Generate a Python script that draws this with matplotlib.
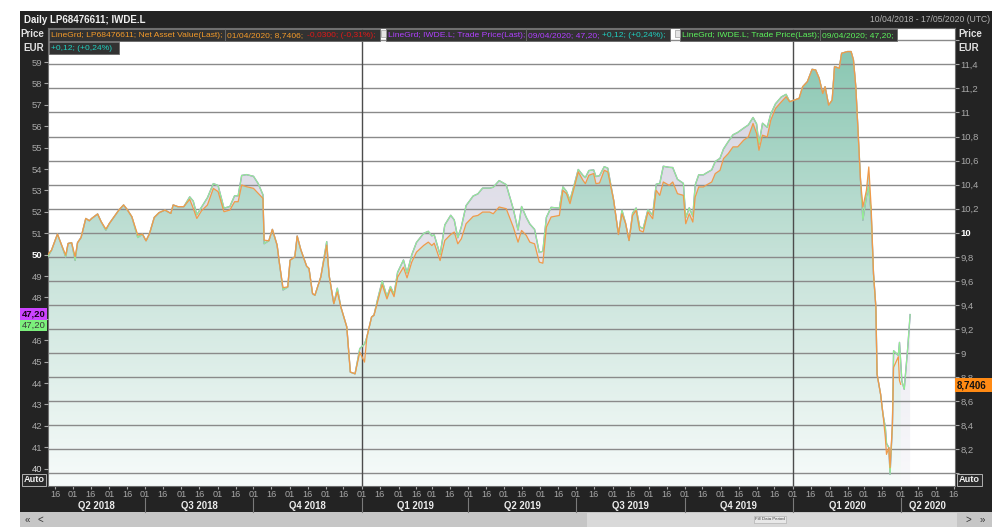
import matplotlib
matplotlib.use("Agg")
import matplotlib.pyplot as plt
import matplotlib.dates as mdates
import matplotlib.colors as mcolors
from matplotlib.patches import Rectangle
from matplotlib.path import Path
import numpy as np
import pandas as pd

plt.rcParams['font.family'] = ['Liberation Sans', 'DejaVu Sans']

# common sampling dates for both series
dates = [
    '2018-04-10', '2018-04-13', '2018-04-18', '2018-04-21', '2018-04-25', '2018-04-27', '2018-04-30',
    '2018-05-03', '2018-05-05', '2018-05-08', '2018-05-12', '2018-05-15', '2018-05-17', '2018-05-22',
    '2018-05-25', '2018-05-29', '2018-06-01', '2018-06-06', '2018-06-09', '2018-06-13', '2018-06-16',
    '2018-06-20', '2018-06-25', '2018-06-29', '2018-07-02', '2018-07-05', '2018-07-09', '2018-07-13',
    '2018-07-18', '2018-07-23', '2018-07-25', '2018-07-29', '2018-08-03', '2018-08-08', '2018-08-11',
    '2018-08-14', '2018-08-18', '2018-08-23', '2018-08-28', '2018-09-01', '2018-09-06', '2018-09-11',
    '2018-09-15', '2018-09-18', '2018-09-21', '2018-09-25', '2018-10-01', '2018-10-05', '2018-10-09',
    '2018-10-10', '2018-10-14', '2018-10-17', '2018-10-21', '2018-10-23', '2018-10-26', '2018-10-30',
    '2018-11-01', '2018-11-05', '2018-11-07', '2018-11-10', '2018-11-15', '2018-11-17', '2018-11-20',
    '2018-11-22', '2018-11-27', '2018-12-02', '2018-12-04', '2018-12-08', '2018-12-11', '2018-12-14',
    '2018-12-19', '2018-12-22', '2018-12-26', '2018-12-30', '2019-01-03', '2019-01-05', '2019-01-09',
    '2019-01-11', '2019-01-14', '2019-01-18', '2019-01-22', '2019-01-25', '2019-01-28', '2019-01-31',
    '2019-02-05', '2019-02-08', '2019-02-12', '2019-02-16', '2019-02-22', '2019-02-26', '2019-03-01',
    '2019-03-03', '2019-03-08', '2019-03-12', '2019-03-17', '2019-03-20', '2019-03-23', '2019-03-26',
    '2019-03-30', '2019-04-05', '2019-04-09', '2019-04-13', '2019-04-19', '2019-04-22', '2019-04-27',
    '2019-05-03', '2019-05-09', '2019-05-13', '2019-05-16', '2019-05-20', '2019-05-23', '2019-05-27',
    '2019-05-31', '2019-06-03', '2019-06-06', '2019-06-10', '2019-06-17', '2019-06-20', '2019-06-23',
    '2019-06-26', '2019-06-30', '2019-07-03', '2019-07-07', '2019-07-09', '2019-07-12', '2019-07-16',
    '2019-07-18', '2019-07-21', '2019-07-25', '2019-07-28', '2019-08-02', '2019-08-06', '2019-08-09',
    '2019-08-12', '2019-08-15', '2019-08-18', '2019-08-21', '2019-08-24', '2019-08-27', '2019-08-31',
    '2019-09-04', '2019-09-07', '2019-09-10', '2019-09-13', '2019-09-18', '2019-09-21', '2019-09-25',
    '2019-09-30', '2019-10-02', '2019-10-05', '2019-10-08', '2019-10-10', '2019-10-13', '2019-10-17',
    '2019-10-19', '2019-10-24', '2019-10-27', '2019-10-31', '2019-11-03', '2019-11-07', '2019-11-11',
    '2019-11-15', '2019-11-20', '2019-11-24', '2019-11-28', '2019-12-01', '2019-12-03', '2019-12-06',
    '2019-12-10', '2019-12-13', '2019-12-17', '2019-12-22', '2019-12-26', '2019-12-29', '2020-01-02',
    '2020-01-06', '2020-01-09', '2020-01-13', '2020-01-17', '2020-01-20', '2020-01-23', '2020-01-26',
    '2020-01-28', '2020-01-31', '2020-02-03', '2020-02-05', '2020-02-09', '2020-02-11', '2020-02-16',
    '2020-02-19', '2020-02-21', '2020-02-23', '2020-02-25', '2020-02-27', '2020-02-29', '2020-03-03',
    '2020-03-05', '2020-03-07', '2020-03-09', '2020-03-11', '2020-03-12', '2020-03-15', '2020-03-17',
    '2020-03-19', '2020-03-20', '2020-03-22', '2020-03-23', '2020-03-25', '2020-03-26', '2020-03-30',
    '2020-03-31',
]

# LP68476611 Net Asset Value (right axis, EUR)
nav_extra_dates = ['2020-04-01']
nav_vals = [
    9.822, 9.856, 9.989, 9.911, 9.814, 9.911, 9.917,
    9.800, 9.917, 9.961, 10.119, 10.100, 10.119, 10.156,
    10.092, 10.031, 10.078, 10.147, 10.189, 10.231, 10.194,
    10.133, 9.981, 9.989, 9.933, 9.994, 10.128, 10.167,
    10.189, 10.161, 10.231, 10.217, 10.217, 10.278, 10.203,
    10.119, 10.183, 10.231, 10.369, 10.342, 10.175, 10.189,
    10.258, 10.258, 10.397, 10.383, 10.369, 10.328, 10.286,
    9.939, 9.933, 10.028, 9.897, 9.744, 9.544, 9.550,
    9.772, 9.800, 9.972, 9.861, 9.722, 9.703, 9.494,
    9.481, 9.633, 9.897, 9.647, 9.411, 9.508, 9.383,
    9.217, 8.842, 8.828, 9.008, 8.925, 9.133, 9.300,
    9.314, 9.422, 9.569, 9.450, 9.533, 9.469, 9.631,
    9.714, 9.625, 9.756, 9.839, 9.894, 9.922, 9.894,
    9.914, 9.769, 9.936, 9.986, 10.006, 9.908, 9.950,
    10.075, 10.136, 10.144, 10.172, 10.172, 10.158, 10.214,
    10.200, 10.047, 9.922, 10.019, 9.978, 9.922, 9.908,
    9.756, 9.747, 10.047, 10.131, 10.144, 10.353, 10.325,
    10.242, 10.394, 10.506, 10.436, 10.408, 10.478, 10.492,
    10.408, 10.414, 10.519, 10.506, 10.269, 9.986, 10.158,
    10.081, 9.936, 10.144, 10.186, 10.019, 10.006, 10.172,
    10.117, 10.353, 10.311, 10.422, 10.394, 10.422, 10.325,
    10.311, 10.075, 10.158, 10.089, 10.297, 10.381, 10.381,
    10.394, 10.422, 10.492, 10.519, 10.617, 10.658, 10.714,
    10.714, 10.769, 10.797, 10.908, 10.825, 10.686, 10.811,
    10.797, 10.936, 11.033, 11.089, 11.131, 11.089, 11.103,
    11.117, 11.214, 11.256, 11.358, 11.353, 11.283, 11.158,
    11.214, 11.061, 11.103, 11.381, 11.367, 11.492, 11.506,
    11.506, 11.436, 11.214, 10.825, 10.436, 10.214, 10.353,
    10.547, 10.214, 9.658, 9.381, 8.825, 8.658, 8.492,
    8.300, 8.158, 8.214, 8.047, 8.408, 8.881, 8.970,
    8.771,
    8.7406,
]

# IWDE.L Trade Price (left axis, EUR)
etf_extra_dates = ['2020-04-02', '2020-04-04', '2020-04-07', '2020-04-09']
etf_vals = [
    49.91, 50.21, 50.96, 50.52, 49.89, 50.52, 50.56,
    49.73, 50.56, 50.80, 51.69, 51.58, 51.69, 51.90,
    51.54, 51.14, 51.46, 51.85, 52.08, 52.32, 52.11,
    51.77, 50.80, 50.96, 50.65, 50.99, 51.74, 51.96,
    52.08, 51.93, 52.32, 52.24, 52.24, 52.70, 52.50,
    51.86, 52.22, 52.66, 53.32, 53.23, 52.17, 52.25,
    52.75, 52.75, 53.70, 53.74, 53.66, 53.32, 52.80,
    50.51, 50.65, 51.18, 50.44, 49.58, 48.35, 48.49,
    49.74, 49.90, 50.87, 50.24, 49.46, 49.35, 48.18,
    48.10, 48.96, 50.61, 49.04, 47.71, 48.43, 47.55,
    46.62, 44.51, 44.43, 45.61, 45.82, 46.15, 47.09,
    47.17, 47.89, 48.77, 48.04, 48.51, 48.15, 49.17,
    49.75, 49.14, 49.99, 50.57, 50.99, 51.09, 50.88,
    50.93, 50.00, 51.39, 51.84, 51.62, 50.79, 51.30,
    52.29, 52.74, 52.84, 53.11, 53.11, 53.15, 53.46,
    53.27, 52.13, 51.15, 52.25, 51.74, 51.43, 51.18,
    50.10, 50.16, 51.74, 52.21, 52.17, 53.17, 52.96,
    52.55, 53.35, 53.98, 53.70, 53.60, 53.93, 53.96,
    53.65, 53.69, 54.11, 54.04, 52.53, 50.94, 52.08,
    51.48, 50.66, 51.94, 52.18, 51.30, 51.22, 52.10,
    51.85, 53.29, 53.33, 54.13, 54.08, 54.07, 53.52,
    53.33, 51.73, 52.19, 51.80, 53.25, 53.73, 53.73,
    53.80, 53.96, 54.35, 54.50, 54.94, 55.28, 55.60,
    55.71, 55.91, 56.06, 56.41, 56.11, 55.16, 56.14,
    55.95, 56.57, 57.05, 57.37, 57.49, 57.15, 57.22,
    57.30, 57.84, 58.08, 58.66, 58.63, 58.24, 57.53,
    57.84, 56.99, 57.22, 58.79, 58.71, 59.41, 59.49,
    59.49, 59.10, 57.84, 55.66, 53.47, 51.61, 52.73,
    53.16, 51.94, 49.10, 47.54, 44.42, 43.48, 42.55,
    41.93, 41.18, 40.98, 39.73, 42.03, 45.51, 45.29,
    45.90,
    44.10, 43.71, 45.66, 47.20,
]

left_ticks = list(range(40, 60))
right_ticks = [round(8.0 + 0.2 * i, 1) for i in range(19)]
year_lines = ['2019-01-01', '2020-01-01']
quarters = [
    ('Q2 2018', '2018-04-10', '2018-07-01'), ('Q3 2018', '2018-07-01', '2018-10-01'),
    ('Q4 2018', '2018-10-01', '2019-01-01'), ('Q1 2019', '2019-01-01', '2019-04-01'),
    ('Q2 2019', '2019-04-01', '2019-07-01'), ('Q3 2019', '2019-07-01', '2019-10-01'),
    ('Q4 2019', '2019-10-01', '2020-01-01'), ('Q1 2020', '2020-01-01', '2020-04-01'),
    ('Q2 2020', '2020-04-01', '2020-05-17'),
]
x_start, x_end = '2018-04-10', '2020-05-17'

assert len(nav_vals) == len(dates) + len(nav_extra_dates)
assert len(etf_vals) == len(dates) + len(etf_extra_dates)


def to_num(ds):
    return mdates.date2num(pd.to_datetime(ds).to_pydatetime())


t_nav = to_num(dates + nav_extra_dates)
t_etf = to_num(dates + etf_extra_dates)
xlo, xhi = to_num([x_start, x_end])

W, H = 997, 527
fig = plt.figure(figsize=(W / 100, H / 100), dpi=100, facecolor='white')


def fx(p):
    return p / W


def fy(p):
    return 1 - p / H


def frect(x0, y0, x1, y1, z=5, **kw):
    r = Rectangle((fx(x0), fy(y1)), fx(x1) - fx(x0), fy(y0) - fy(y1),
                  transform=fig.transFigure, zorder=z, **kw)
    fig.add_artist(r)
    return r


def ftext(x, y, s, **kw):
    kw.setdefault('zorder', 6)
    kw.setdefault('va', 'center')
    return fig.text(fx(x), fy(y), s, **kw)


# dark terminal frame and scroll bar
frect(20, 11, 992, 512, z=-2, fc='#232323', ec='none')
frect(20, 512, 992, 527, z=-2, fc='#c6c6c6', ec='none')
frect(587, 513, 957, 527, z=-1, fc='#d9d9d9', ec='none')

rect = [fx(48), fy(486), (955 - 48) / W, (486 - 28) / H]
axr = fig.add_axes(rect)
ax = fig.add_axes(rect, sharex=axr)
ax.patch.set_visible(False)
axr.set_facecolor('white')


def gradient(stops, cols):
    pos = np.linspace(0, 1, 256)
    c = np.array([mcolors.to_rgb(k) for k in cols])
    img = np.stack([np.interp(pos, stops, c[:, k]) for k in range(3)], axis=-1)
    return img[:, None, :]


r_lo, r_hi = 7.895, 11.702
l_lo, l_hi = 39.19, 60.59

# lavender fill under IWDE.L (clipped by its own polygon, left scale)
etf_poly = Path([(t_etf[0], 0)] + list(zip(t_etf, etf_vals)) + [(t_etf[-1], 0), (t_etf[0], 0)])
im1 = axr.imshow(gradient([0, 1], ['#d3d1df', '#f9f9fb']), extent=[xlo, xhi, r_lo, r_hi],
                 aspect='auto', origin='upper', zorder=0.3, interpolation='bilinear')
im1.set_clip_path(etf_poly, ax.transData)

# teal fill under NAV (right scale)
nav_poly = Path([(t_nav[0], 0)] + list(zip(t_nav, nav_vals)) + [(t_nav[-1], 0), (t_nav[0], 0)])
im2 = axr.imshow(gradient([0, 0.48, 1], ['#83c4ae', '#c4e1d7', '#f7fbfa']),
                 extent=[xlo, xhi, r_lo, r_hi], aspect='auto', origin='upper',
                 zorder=0.5, interpolation='bilinear')
im2.set_clip_path(nav_poly, axr.transData)

for d in year_lines:
    axr.axvline(to_num([d])[0], color='#4c4c4c', lw=1.0, zorder=1.8)

ax.plot(t_etf, etf_vals, color='#b040ff', lw=0.9, zorder=2)
ax.plot(t_etf, etf_vals, color='#94ec94', lw=1.0, zorder=3)
ax.plot(t_nav, nav_vals, color='#f09a4a', lw=0.9, zorder=4, transform=axr.transData)

axr.set_xlim(xlo, xhi)
axr.set_ylim(r_lo, r_hi)
ax.set_ylim(l_lo, l_hi)


# right axis (NAV) with the horizontal grid
def rlabel(v):
    if v in (8.0, 11.6):
        return ''
    return ('%g' % v).replace('.', ',')


axr.set_yticks(right_ticks, labels=[rlabel(v) for v in right_ticks])
axr.yaxis.tick_right()
axr.grid(axis='y', color='#8a8a8a', lw=1.0)
axr.tick_params(axis='y', colors='#a8a8a8', labelsize=6.8, length=3, pad=1)
for lbl in axr.get_yticklabels():
    if lbl.get_text() == '10':
        lbl.set_color('white')
        lbl.set_fontweight('bold')

# left axis (IWDE.L); 47 sits behind the last-price badges
ax.set_yticks(left_ticks, labels=['' if v == 47 else str(v) for v in left_ticks])
ax.tick_params(axis='y', left=True, labelleft=True, right=False, labelright=False,
               colors='#a8a8a8', labelsize=6.8, length=3, pad=1)
for lbl in ax.get_yticklabels():
    if lbl.get_text() == '50':
        lbl.set_color('white')
        lbl.set_fontweight('bold')
    if lbl.get_text() == '40':
        lbl.set_color('#d8d8d8')

# time axis
axr.xaxis.set_major_locator(mdates.DayLocator(bymonthday=[1, 16]))
axr.xaxis.set_major_formatter(mdates.DateFormatter('%d'))
axr.tick_params(axis='x', colors='#a8a8a8', labelsize=6.6, length=2, pad=1.2)
ax.tick_params(axis='x', bottom=False, labelbottom=False)

xt = axr.get_xaxis_transform()
for name, a, b in quarters:
    ta, tb = to_num([a, b])
    axr.text((ta + tb) / 2, -0.044, name, transform=xt, ha='center', va='center',
             color='#ececec', fontsize=6.9, fontweight='bold', clip_on=False)
    if a != x_start:
        axr.plot([ta, ta], [-0.026, -0.056], transform=xt, color='#7a7a7a', lw=0.8, clip_on=False)

for s in axr.spines.values():
    s.set_color('#6e6e6e')
    s.set_linewidth(0.8)
for s in ax.spines.values():
    s.set_visible(False)

# header
ftext(24, 20, 'Daily LP68476611; IWDE.L', color='#f0f0f0', fontsize=7, fontweight='bold')
ftext(990, 20, '10/04/2018 - 17/05/2020 (UTC)', color='#b4b4b4', fontsize=6.2, ha='right')
ftext(44, 34, 'Price', color='#e0e0e0', fontsize=7, fontweight='bold', ha='right')
ftext(44, 48, 'EUR', color='#e0e0e0', fontsize=7, fontweight='bold', ha='right')
ftext(958, 34, 'Price', color='#e0e0e0', fontsize=7, fontweight='bold')
ftext(958, 48, 'EUR', color='#e0e0e0', fontsize=7, fontweight='bold')

# legend strip
LEG = dict(fontsize=6.1)
for x0, y0, x1, y1 in [(49, 29, 225, 41), (225, 29, 380, 41), (386, 29, 526, 41),
                       (526, 29, 670, 41), (680, 29, 820, 41), (820, 29, 897, 41),
                       (49, 42, 119, 54)]:
    frect(x0, y0, x1, y1, fc='#323232', ec='#6a6a6a', lw=0.6)
frect(381, 30, 386, 37, fc='#e4e4e4', ec='#888888', lw=0.4)
frect(675, 30, 680, 37, fc='#e4e4e4', ec='#888888', lw=0.4)
ftext(51, 35.5, 'LineGrd; LP68476611; Net Asset Value(Last);', color='#f39a2a', **LEG)
ftext(227, 35.5, '01/04/2020; 8,7406;', color='#f39a2a', **LEG)
ftext(307, 35.5, '-0,0300; (-0,31%);', color='#e01818', **LEG)
ftext(388, 35.5, 'LineGrd; IWDE.L; Trade Price(Last);', color='#b040ff', **LEG)
ftext(528, 35.5, '09/04/2020; 47,20;', color='#b040ff', **LEG)
ftext(602, 35.5, '+0,12; (+0,24%);', color='#20d0c0', **LEG)
ftext(682, 35.5, 'LineGrd; IWDE.L; Trade Price(Last);', color='#5cf25c', **LEG)
ftext(822, 35.5, '09/04/2020; 47,20;', color='#5cf25c', **LEG)
ftext(51, 48.5, '+0,12; (+0,24%)', color='#20d0c0', **LEG)

# last value badges
frect(20, 308, 47, 320, fc='#cc44ff', ec='none')
ftext(46, 314, '47,20', color='#1a001a', fontsize=6.8, fontweight='bold', ha='right')
frect(20, 320, 47, 331, fc='#7cf07c', ec='none')
ftext(46, 325.5, '47,20', color='#3a3a3a', fontsize=6.8, ha='right')
frect(955, 378, 992, 392, fc='#ff8a14', ec='none')
ftext(957, 385, '8,7406', color='#111111', fontsize=7, fontweight='bold')

# Auto boxes
frect(22, 474, 46, 486, fc='#2a2a2a', ec='#b0b0b0', lw=0.7)
ftext(34, 480, 'Auto', color='#f0f0f0', fontsize=6.6, fontweight='bold', ha='center')
frect(957, 474, 982, 486, fc='#2a2a2a', ec='#b0b0b0', lw=0.7)
ftext(969.5, 480, 'Auto', color='#f0f0f0', fontsize=6.6, fontweight='bold', ha='center')

# scroll bar glyphs
ftext(27, 519.5, '\u00ab', color='#333333', fontsize=7, ha='center')
ftext(40, 519.5, '<', color='#333333', fontsize=7, ha='center')
ftext(968, 519.5, '>', color='#333333', fontsize=7, ha='center')
ftext(982, 519.5, '\u00bb', color='#333333', fontsize=7, ha='center')
ftext(770, 519.5, 'Fill Data Period', color='#444444', fontsize=3.2, ha='center',
      bbox=dict(boxstyle='square,pad=0.3', fc='#e8e8e8', ec='#aaaaaa', lw=0.4))

fig.savefig('out.png', dpi=100, facecolor='white')
